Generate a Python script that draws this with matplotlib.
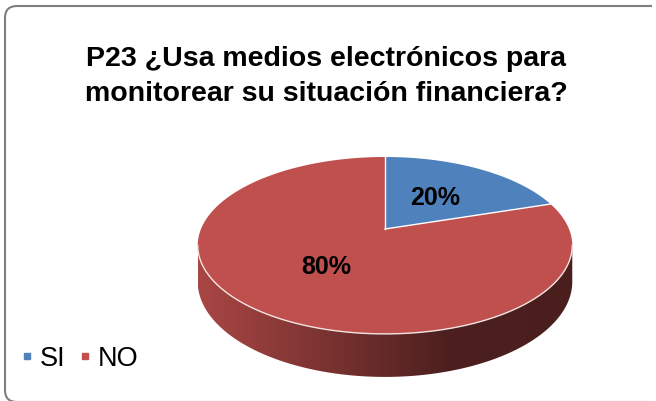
import numpy as np
import matplotlib.pyplot as plt
from matplotlib.patches import Polygon, FancyBboxPatch, Rectangle
from matplotlib.colors import LinearSegmentedColormap, to_rgb
from matplotlib.lines import Line2D

plt.rcParams["font.family"] = ["Liberation Sans", "DejaVu Sans"]

# ---- data ----
title = "P23 ¿Usa medios electrónicos para\nmonitorear su situación financiera?"
labels = ["SI", "NO"]
values = [20, 80]
colors = ["#4F81BD", "#C0504D"]

# ---- 3D pie geometry (pixel space) ----
W, H = 656, 402
cx, cy = 385.0, 230.0
rx, ry = 184.0, 85.4
persp = 0.186      # far side shrinks, near side grows
depth = 35.0       # pie thickness


def project(theta, r=1.0, drop=0.0):
    u = r * np.cos(theta)
    v = r * np.sin(theta)
    d = 1 + persp * v
    return cx + rx * u / d, cy - ry * v / d + drop / d


fig = plt.figure(figsize=(W / 100, H / 100), dpi=100)
ax = fig.add_axes([0, 0, 1, 1])
ax.set_xlim(0, W)
ax.set_ylim(H, 0)
ax.axis("off")

# rounded chart frame
ax.add_patch(FancyBboxPatch((5, 7), 680, 396,
                            boxstyle="round,pad=0,rounding_size=12",
                            facecolor="white", edgecolor="#7f7f7f", lw=1.5, zorder=0))
ax.add_patch(Rectangle((652, 0), 10, H, facecolor="white", edgecolor="none", zorder=0.5))

# slice angles: start at 12 o'clock, go clockwise
fracs = np.array(values, dtype=float) / np.sum(values)
starts = np.pi / 2 - 2 * np.pi * np.concatenate([[0], np.cumsum(fracs)[:-1]])
ends = starts - 2 * np.pi * fracs

# visible front of the rim
a0 = np.arcsin(persp)
f0, f1 = np.pi + a0, 2 * np.pi - a0

# side walls with horizontal shading
for s, e, col in zip(starts, ends, colors):
    for shift in (-2 * np.pi, 0, 2 * np.pi):
        lo = max(e + shift, f0)
        hi = min(s + shift, f1)
        if hi <= lo:
            continue
        t = np.linspace(lo, hi, 200)
        xt, yt = project(t)
        xb, yb = project(t, drop=depth)
        pts = np.column_stack([np.r_[xt, xb[::-1]], np.r_[yt, yb[::-1]]])
        side = Polygon(pts, closed=True, facecolor="none", edgecolor="none")
        ax.add_patch(side)
        base = np.array(to_rgb(col))
        cmap = LinearSegmentedColormap.from_list(
            "side", [base * 0.88, base * 0.64, base * 0.40, base * 0.38])
        grad = np.linspace(0, 1, 256)[None, :]
        im = ax.imshow(grad, cmap=cmap, aspect="auto",
                       extent=[pts[:, 0].min(), pts[:, 0].max(),
                               pts[:, 1].max(), pts[:, 1].min()], zorder=1)
        im.set_clip_path(side)

# top faces
for s, e, col in zip(starts, ends, colors):
    t = np.linspace(s, e, 300)
    xs, ys = project(t)
    pts = np.column_stack([np.r_[cx, xs], np.r_[cy, ys]])
    ax.add_patch(Polygon(pts, closed=True, facecolor=col, edgecolor="none", zorder=2))

# white separators and front highlight
for s in starts:
    x1, y1 = project(s)
    ax.plot([cx, x1], [cy, y1], color="white", lw=1.0, zorder=3)
t = np.linspace(f0, f1, 300)
xs, ys = project(t)
ax.plot(xs, ys, color="#f3e4e2", lw=1.0, zorder=3)

# percentage labels
for s, e, v in zip(starts, ends, values):
    lx, ly = project((s + e) / 2, r=0.5)
    ax.text(lx, ly, f"{v:.0f}%", ha="center", va="center",
            fontsize=18, fontweight="bold", color="black", zorder=4)

# two-line title
for i, line in enumerate(title.split("\n")):
    ax.text(326, 66 + 35 * i, line, ha="center", va="baseline",
            fontsize=20.5, fontweight="bold")

handles = [Line2D([], [], marker="s", ls="none", color=c, markersize=4.5) for c in colors]
ax.legend(handles, labels, loc="lower left", bbox_to_anchor=(20 / W, 1 - 372 / H),
          ncol=2, frameon=False, fontsize=19.5, handlelength=0.55, handletextpad=0.18,
          columnspacing=0.45, borderaxespad=0, borderpad=0)

fig.savefig("out.png", dpi=100)
